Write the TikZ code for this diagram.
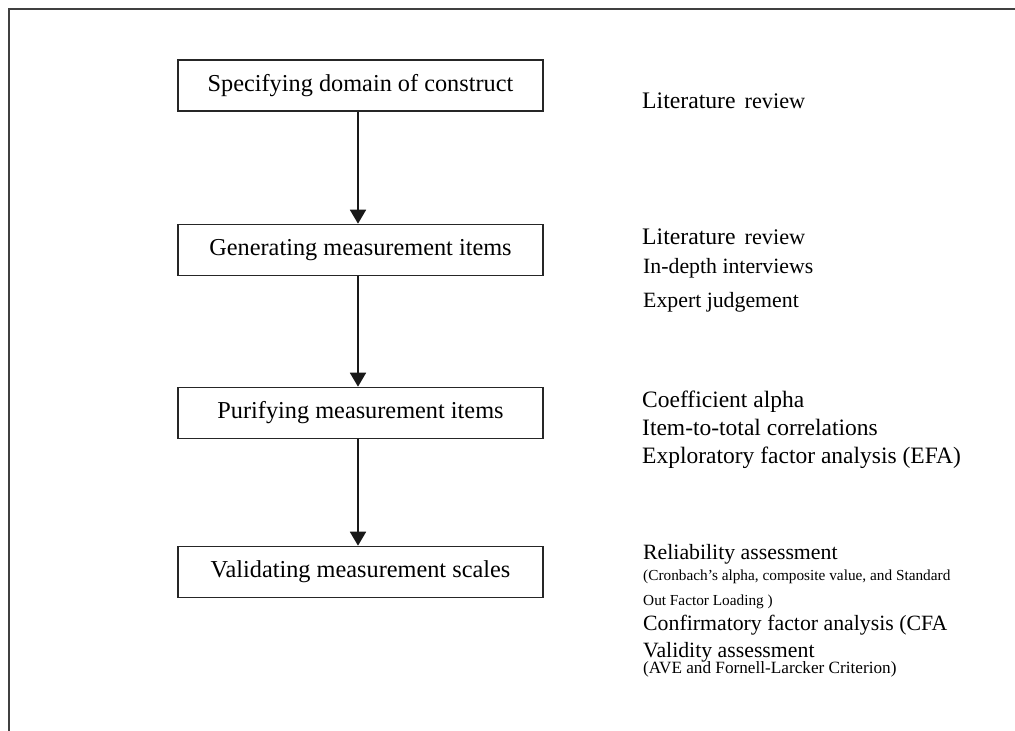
\documentclass[tikz,border=0pt]{standalone}
\usepackage{fontspec}
\setmainfont{Liberation Serif}
\usetikzlibrary{arrows.meta}
\begin{document}
\begin{tikzpicture}[x=1pt,y=-1pt,
  stepbox/.style={draw=black!85, line width=1.6pt, minimum width=365pt, minimum height=51pt,
    inner sep=0pt, font=\fontsize{24.3}{29}\selectfont},
  flow/.style={-{Triangle[width=16pt,length=14pt]}, line width=1.8pt, black!90},
  note/.style={anchor=base west, inner sep=0pt, font=\fontsize{23.5}{28}\selectfont},
  notem/.style={note, font=\fontsize{21.8}{26}\selectfont},
  notes/.style={note, font=\fontsize{15.3}{18}\selectfont},
  frame/.style={draw=black!75, line width=2pt}]
\useasboundingbox (0,0) rectangle (1015,731);
% frame
\coordinate (fbl) at (9,731);
\coordinate (ftl) at (9,9);
\coordinate (ftr) at (1015,9);
\draw[frame] (fbl) -- (ftl) -- (ftr);
% boxes
\node[stepbox] (b1) at (360.5,85.5) {Specifying domain of construct};
\node[stepbox] (b2) at (360.5,250) {Generating measurement items};
\node[stepbox] (b3) at (360.5,413) {Purifying measurement items};
\node[stepbox] (b4) at (360.5,572) {Validating measurement scales};
% arrows
\draw[flow] ([xshift=-2.5pt]b1.south) -- ([xshift=-2.5pt]b2.north);
\draw[flow] ([xshift=-2.5pt]b2.south) -- ([xshift=-2.5pt]b3.north);
\draw[flow] ([xshift=-2.5pt]b3.south) -- ([xshift=-2.5pt]b4.north);
% notes
\node[note] (n1) at (642,108) {\fontsize{23.7}{28}\selectfont Literature\hspace{9pt}{\fontsize{22.3}{27}\selectfont review}};
\node[note] (n2a) at (642,244) {\fontsize{23.7}{28}\selectfont Literature\hspace{9pt}{\fontsize{22.3}{27}\selectfont review}};
\node[notem] (n2b) at (643,273) {In-depth interviews};
\node[notem] (n2c) at (643,307) {Expert judgement};
\node[note] (n3a) at (642,407.5) {Coefficient alpha};
\node[note] (n3b) at (642,435) {Item-to-total correlations};
\node[note] (n3c) at (642,463) {Exploratory factor analysis (EFA)};
\node[notem] (n4a) at (643,559.5) {Reliability assessment};
\node[notes] (n4b) at (643,580) {(Cronbach’s alpha, composite value, and Standard};
\node[notes] (n4c) at (643,605) {Out Factor Loading )};
\node[notem] (n4d) at (643,630.5) {Confirmatory factor analysis (CFA};
\node[notem] (n4e) at (643,657) {Validity assessment};
\node[notes, font=\fontsize{17.2}{20}\selectfont] (n4f) at (643,673.5) {(AVE and Fornell-Larcker Criterion)};
\end{tikzpicture}
\end{document}
